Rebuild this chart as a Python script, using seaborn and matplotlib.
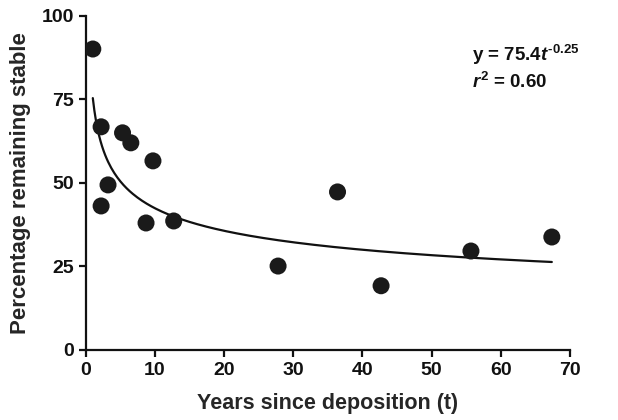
import numpy as np
import pandas as pd
import matplotlib as mpl
mpl.use('Agg')
import matplotlib.pyplot as plt
import seaborn as sns

# ── Data ──────────────────────────────────────────────────────────────────
years = [1.0, 2.2, 2.2, 3.2, 5.3, 6.5, 9.7, 8.7, 12.7, 27.8, 36.4, 42.7, 55.7, 67.4]
pct_stable = [90.1, 66.8, 43.1, 49.4, 65.0, 62.0, 56.6, 38.0, 38.6, 25.1, 47.3, 19.2, 29.6, 33.8]

# fitted power law shown on the chart
FIT_A, FIT_B = 75.4, -0.25
x_ticks = [0, 10, 20, 30, 40, 50, 60, 70]
y_ticks = [0, 25, 50, 75, 100]

# ── Style ────────────────────────────────────────────────────────────────
sns.set_theme(style='ticks')
mpl.rcParams.update({
    'font.family': ['Liberation Sans', 'DejaVu Sans'],
    'font.weight': 'bold',
    'axes.labelweight': 'bold',
    'axes.linewidth': 1.6,
    'axes.edgecolor': '#111111',
    'axes.spines.top': False,
    'axes.spines.right': False,
    'xtick.major.width': 1.6,
    'ytick.major.width': 1.6,
    'xtick.major.size': 5,
    'ytick.major.size': 5,
    'xtick.color': '#111111',
    'ytick.color': '#111111',
    'mathtext.fontset': 'custom',
    'mathtext.rm': 'Liberation Sans:bold',
    'mathtext.bf': 'Liberation Sans:bold',
    'mathtext.it': 'Liberation Sans:bold:italic',
    'mathtext.bfit': 'Liberation Sans:bold:italic',
})

df = pd.DataFrame({'t': years, 'pct': pct_stable})
t_fit = np.linspace(min(years), max(years), 300)
fit = pd.DataFrame({'t': t_fit, 'pct': FIT_A * t_fit ** FIT_B})

fig = plt.figure(figsize=(6.18, 4.20), dpi=100)
ax = fig.add_axes([0.139, 0.167, 0.783, 0.795])

sns.lineplot(data=fit, x='t', y='pct', color='#111111', linewidth=1.6, ax=ax)
sns.scatterplot(data=df, x='t', y='pct', color='#1a1a1a', s=150,
                edgecolor='none', zorder=3, ax=ax)

ax.set_xlim(0, 70)
ax.set_ylim(0, 100)
ax.set_xticks(x_ticks)
ax.set_yticks(y_ticks)
ax.tick_params(labelsize=14)
for lbl in ax.get_xticklabels() + ax.get_yticklabels():
    lbl.set_fontweight('bold')
ax.set_xlabel('Years since deposition (t)', fontsize=15.5, labelpad=10)
ax.set_ylabel('Percentage remaining stable', fontsize=16, labelpad=8)

ax.text(0.797, 0.865, r'y = 75.4$t^{\text{-0.25}}$', transform=ax.transAxes,
        fontsize=13.5, fontweight='bold', color='#111111')
ax.text(0.797, 0.785, r'$r^{\text{2}}$ = 0.60', transform=ax.transAxes,
        fontsize=13.5, fontweight='bold', color='#111111')

fig.savefig('out.png', dpi=100)
